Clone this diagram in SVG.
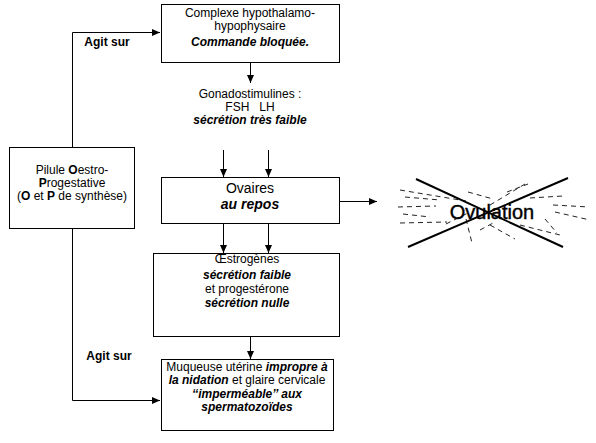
<svg xmlns="http://www.w3.org/2000/svg" width="596" height="443" viewBox="0 0 596 443">
<defs>
<marker id="ah" viewBox="0 0 8 8" refX="8" refY="4" markerWidth="8" markerHeight="8" markerUnits="userSpaceOnUse" orient="auto">
<path d="M0,0.5 L8,4 L0,7.5 z" fill="#000"/>
</marker>
<style>
.box{fill:#fff;stroke:#000;stroke-width:1}
.t{font-family:"Liberation Sans",Arial,sans-serif;font-size:12px;fill:#000;text-anchor:middle}
.bi{font-weight:bold;font-style:italic}
.b{font-weight:bold}
.c{fill:none;stroke:#000;stroke-width:1}
.d{fill:none;stroke:#222;stroke-width:1;stroke-dasharray:5 4}
</style>
</defs>
<rect width="596" height="443" fill="#fff"/>
<g id="connectors">
<path class="c" d="M72.5,147 V32.5 H160" marker-end="url(#ah)"/>
<path class="c" d="M72.5,228 V400.5 H160" marker-end="url(#ah)"/>
<path class="c" d="M250.5,62 V83" marker-end="url(#ah)"/>
<path class="c" d="M223.5,150 V177" marker-end="url(#ah)"/>
<path class="c" d="M268.5,150 V177" marker-end="url(#ah)"/>
<path class="c" d="M223.5,223 V253" marker-end="url(#ah)"/>
<path class="c" d="M268.5,223 V253" marker-end="url(#ah)"/>
<path class="c" d="M250.5,336 V359" marker-end="url(#ah)"/>
<path class="c" d="M339,201.5 H377" marker-end="url(#ah)"/>
</g>
<g id="label-agit1"><text class="t b" x="107" y="46">Agit sur</text></g>
<g id="label-agit2"><text class="t b" x="109" y="360">Agit sur</text></g>
<g id="complexe">
<rect class="box" x="161.5" y="4.5" width="178" height="58"/>
<text class="t" x="250" y="17">Complexe hypothalamo-</text>
<text class="t" x="250" y="30">hypophysaire</text>
<text class="t bi" x="250" y="46">Commande bloquée.</text>
</g>
<g id="gonado">
<text class="t" x="250" y="98">Gonadostimulines :</text>
<text class="t" x="250" y="111" xml:space="preserve">FSH   LH</text>
<text class="t bi" x="250" y="124">sécrétion très faible</text>
</g>
<g id="pilule">
<rect class="box" x="9.5" y="147.5" width="125" height="81"/>
<text class="t" x="72" y="174">Pilule <tspan class="b">O</tspan>estro-</text>
<text class="t" x="72" y="187"><tspan class="b">P</tspan>rogestative</text>
<text class="t" x="72" y="200">(<tspan class="b">O</tspan> et <tspan class="b">P</tspan> de synthèse)</text>
</g>
<g id="ovaires">
<rect class="box" x="161.5" y="177.5" width="178" height="46"/>
<text class="t" x="250" y="193" style="font-size:14px">Ovaires</text>
<text class="t bi" x="250" y="209" style="font-size:14px">au repos</text>
</g>
<g id="oestrogenes">
<rect class="box" x="153.5" y="253.5" width="186" height="83"/>
<text class="t" x="247" y="263">Œstrogènes</text>
<text class="t bi" x="247" y="279">sécrétion faible</text>
<text class="t" x="247" y="293">et progestérone</text>
<text class="t bi" x="247" y="307">sécrétion nulle</text>
</g>
<g id="muqueuse">
<rect class="box" x="161.5" y="359.5" width="172" height="71"/>
<text class="t" x="247" y="371">Muqueuse utérine <tspan class="bi">impropre à</tspan></text>
<text class="t" x="247" y="384"><tspan class="bi">la nidation</tspan>  et glaire cervicale</text>
<text class="t bi" x="247" y="397.5">‘‘imperméable’’ aux</text>
<text class="t bi" x="247" y="411">spermatozoïdes</text>
</g>
<g id="ovulation">
<g class="burst">
<line class="d" x1="400" y1="190" x2="466" y2="201"/>
<line class="d" x1="405" y1="197" x2="440" y2="200"/>
<line class="d" x1="398" y1="207" x2="436" y2="206"/>
<line class="d" x1="403" y1="214" x2="430" y2="217"/>
<line class="d" x1="400" y1="223" x2="447" y2="222"/>
<line class="d" x1="446" y1="224" x2="470" y2="212"/>
<line class="d" x1="466" y1="219" x2="472" y2="243"/>
<line class="d" x1="468" y1="192" x2="493" y2="199"/>
<line class="d" x1="490" y1="205" x2="525" y2="184"/>
<line class="d" x1="480" y1="230" x2="495" y2="222"/>
<line class="d" x1="490" y1="225" x2="515" y2="239"/>
<line class="d" x1="507" y1="192" x2="528" y2="184"/>
<line class="d" x1="530" y1="198" x2="563" y2="196"/>
<line class="d" x1="553" y1="205" x2="589" y2="207"/>
<line class="d" x1="555" y1="212" x2="590" y2="220"/>
<line class="d" x1="520" y1="225" x2="560" y2="235"/>
<line class="d" x1="545" y1="219" x2="557" y2="233"/>
</g>
<line x1="416" y1="179" x2="563" y2="247" stroke="#000" stroke-width="2"/>
<line x1="408" y1="247" x2="568" y2="178" stroke="#000" stroke-width="2"/>
<text x="492" y="219" style="font-family:'Liberation Sans',Arial,sans-serif;font-size:20px;text-anchor:middle;fill:#000;stroke:#000;stroke-width:0.4">Ovulation</text>
</g>
</svg>
